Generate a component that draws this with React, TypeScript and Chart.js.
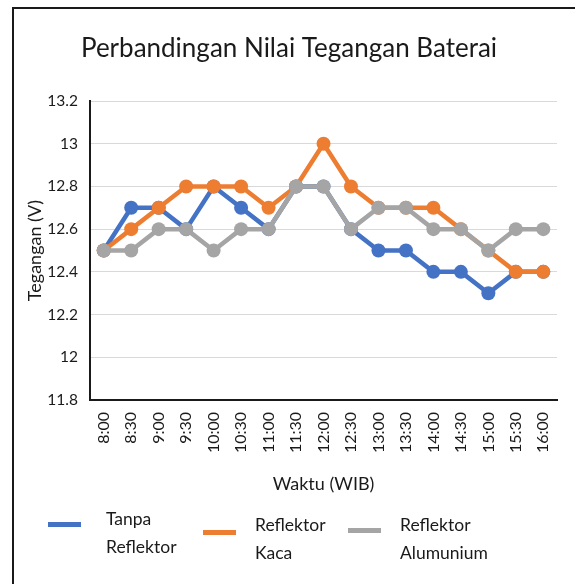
import React, { useEffect, useRef } from "react";
import { Chart, registerables } from "chart.js";

Chart.register(...registerables);

const categories = ["8:00", "8:30", "9:00", "9:30", "10:00", "10:30", "11:00", "11:30", "12:00", "12:30", "13:00", "13:30", "14:00", "14:30", "15:00", "15:30", "16:00"];
const tanpaReflektor = [12.5, 12.7, 12.7, 12.6, 12.8, 12.7, 12.6, 12.8, 12.8, 12.6, 12.5, 12.5, 12.4, 12.4, 12.3, 12.4, 12.4];
const reflektorKaca = [12.5, 12.6, 12.7, 12.8, 12.8, 12.8, 12.7, 12.8, 13.0, 12.8, 12.7, 12.7, 12.7, 12.6, 12.5, 12.4, 12.4];
const reflektorAlumunium = [12.5, 12.5, 12.6, 12.6, 12.5, 12.6, 12.6, 12.8, 12.8, 12.6, 12.7, 12.7, 12.6, 12.6, 12.5, 12.6, 12.6];

const FONT = "Lato, 'Open Sans', sans-serif";
const TEXT = "#1a1a1a";

const series = [
  { label: "Tanpa Reflektor", lines: ["Tanpa", "Reflektor"], data: tanpaReflektor, color: "#4472C4", order: 3 },
  { label: "Reflektor Kaca", lines: ["Reflektor", "Kaca"], data: reflektorKaca, color: "#ED7D31", order: 2 },
  { label: "Reflektor Alumunium", lines: ["Reflektor", "Alumunium"], data: reflektorAlumunium, color: "#A5A5A5", order: 1 },
];

const legendPos = [
  { lineX: 48, lineY: 524, textX: 106, textY: 505 },
  { lineX: 203, lineY: 532, textX: 255, textY: 511 },
  { lineX: 348, lineY: 530, textX: 400, textY: 511 },
];

export default function App() {
  const ref = useRef<HTMLCanvasElement | null>(null);

  useEffect(() => {
    if (!ref.current) return;
    const chart = new Chart(ref.current, {
      type: "line",
      data: {
        labels: categories,
        datasets: series.map((s) => ({
          label: s.label,
          data: s.data,
          borderColor: s.color,
          backgroundColor: s.color,
          pointBackgroundColor: s.color,
          pointBorderColor: s.color,
          pointBorderWidth: 0,
          pointRadius: 7,
          borderWidth: 4.5,
          borderJoinStyle: "round" as const,
          borderCapStyle: "round" as const,
          tension: 0,
          order: s.order,
        })),
      },
      options: {
        animation: false,
        responsive: false,
        maintainAspectRatio: false,
        layout: { padding: { left: 20, right: 17, top: 33, bottom: 89 } },
        plugins: {
          legend: { display: false },
          tooltip: { enabled: false },
          title: {
            display: true,
            text: "Perbandingan Nilai Tegangan Baterai",
            color: TEXT,
            font: { family: FONT, size: 26, weight: "normal" },
            padding: { top: 0, bottom: 36.8 },
          },
        },
        scales: {
          x: {
            type: "category",
            offset: true,
            grid: { display: false, drawTicks: false },
            border: { display: true, color: "#1a1a1a", width: 2 },
            ticks: {
              color: TEXT,
              font: { family: FONT, size: 16 },
              minRotation: 90,
              maxRotation: 90,
              padding: 12,
              autoSkip: false,
            },
            title: {
              display: true,
              text: "Waktu (WIB)",
              color: TEXT,
              font: { family: FONT, size: 18 },
              padding: { top: 0, bottom: 0 },
            },
            afterFit: (scale: any) => {
              scale.height = 95;
            },
          },
          y: {
            min: 11.8,
            max: 13.2,
            grid: { color: "#D9D9D9", lineWidth: 1, drawTicks: false },
            border: { display: true, color: "#1a1a1a", width: 2 },
            ticks: {
              stepSize: 0.2,
              color: TEXT,
              font: { family: FONT, size: 15.5 },
              padding: 12,
              callback: (v: any) => String(Math.round(Number(v) * 10) / 10),
            },
            title: {
              display: true,
              text: "Tegangan (V)",
              color: TEXT,
              font: { family: FONT, size: 18 },
              padding: { top: 4, bottom: 4 },
            },
            afterFit: (scale: any) => {
              scale.width = 70;
            },
          },
        },
      },
    });
    return () => chart.destroy();
  }, []);

  return (
    <div style={{ position: "absolute", left: 0, top: 0, width: 575, height: 584, background: "#fff", overflow: "hidden" }}>
      <canvas ref={ref} width={575} height={584} style={{ position: "absolute", left: 0, top: 0, width: 575, height: 584 }} />
      <div
        style={{
          position: "absolute",
          left: 12,
          top: 7,
          width: 575 - 12,
          height: 584 - 7,
          borderTop: "2px solid #1a1a1a",
          borderLeft: "2px solid #1a1a1a",
          boxSizing: "border-box",
          pointerEvents: "none",
        }}
      />
      {series.map((s, i) => (
        <React.Fragment key={s.label}>
          <div
            style={{
              position: "absolute",
              left: legendPos[i].lineX,
              top: legendPos[i].lineY - 2.5,
              width: 33,
              height: 5,
              background: s.color,
            }}
          />
          <div
            style={{
              position: "absolute",
              left: legendPos[i].textX,
              top: legendPos[i].textY,
              fontFamily: FONT,
              fontSize: 17.5,
              lineHeight: "28px",
              color: TEXT,
              whiteSpace: "nowrap",
            }}
          >
            {s.lines.map((t) => (
              <div key={t}>{t}</div>
            ))}
          </div>
        </React.Fragment>
      ))}
    </div>
  );
}
